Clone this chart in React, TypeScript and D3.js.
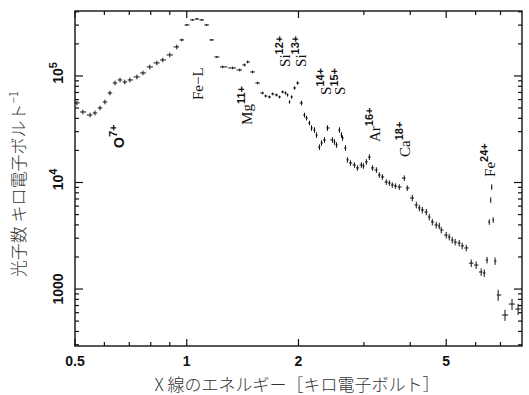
import React from 'react';
import * as d3 from 'd3';

// Spectrum data (energy keV, counts per keV, relative error)
const energy = [
  0.506,0.525,0.549,0.566,0.584,0.602,0.621,0.641,0.661,0.681,
  0.703,0.734,0.762,0.795,0.831,0.862,0.900,0.940,0.970,1.000,
  1.038,1.064,1.097,1.131,1.167,1.204,1.250,1.330,1.389,1.432,
  1.459,1.504,1.552,1.601,1.631,1.672,1.703,1.746,1.778,1.812,
  1.846,1.869,1.892,1.916,1.952,1.988,2.038,2.076,2.102,2.141,
  2.168,2.209,2.236,2.278,2.307,2.350,2.394,2.469,2.500,2.531,
  2.579,2.611,2.627,2.676,2.709,2.760,2.829,2.882,2.954,2.991,
  3.047,3.104,3.163,3.242,3.302,3.365,3.448,3.514,3.578,3.647,
  3.737,3.855,3.927,4.051,4.153,4.231,4.310,4.419,4.500,4.586,
  4.700,4.789,4.848,5.000,5.094,5.19,5.284,5.42,5.52,5.66,
  5.84,6.02,6.21,6.33,6.44,6.53,6.59,6.63,6.69,6.77,
  6.90,7.20,7.52,7.81,
];
const counts = [
  55800,45900,43000,44950,50100,57000,69200,85900,91700,87800,
  91700,97900,106700,121500,132500,141300,157500,187200,217800,301000,
  335700,342800,335700,301000,217800,150700,121500,118900,113800,126900,
  135300,109000,85900,69200,64900,63500,67800,66300,63500,70800,
  69200,66300,57000,63500,77100,85900,55800,43000,40300,36200,
  32500,31100,27900,21500,23500,25100,32500,25100,24000,22500,
  31100,27900,26200,21100,16300,15240,14600,13700,14600,14300,
  15600,17300,13700,13100,11750,11270,10100,9890,9470,9270,
  9070,11000,8870,7150,6150,5770,5520,5280,4740,4260,
  3990,3910,3580,3210,3080,2880,2760,2700,2540,2430,
  1750,1680,1445,1413,1870,4260,6850,9070,4450,1830,
  879,570,723,649,
];
const relErr = [
  0.05,0.05,0.05,0.05,0.05,0.05,0.05,0.05,0.05,0.05,
  0.05,0.05,0.05,0.05,0.05,0.05,0.05,0.05,0.03,0.02,
  0.02,0.02,0.02,0.02,0.02,0.02,0.03,0.03,0.03,0.03,
  0.03,0.03,0.03,0.03,0.03,0.03,0.03,0.03,0.03,0.03,
  0.035,0.035,0.035,0.035,0.035,0.035,0.05,0.05,0.05,0.05,
  0.06,0.06,0.06,0.06,0.06,0.06,0.06,0.06,0.06,0.06,
  0.06,0.06,0.06,0.06,0.06,0.06,0.06,0.06,0.06,0.06,
  0.06,0.06,0.06,0.06,0.06,0.06,0.06,0.06,0.06,0.06,
  0.06,0.06,0.06,0.07,0.07,0.07,0.07,0.07,0.07,0.07,
  0.07,0.07,0.07,0.07,0.07,0.07,0.07,0.07,0.07,0.07,
  0.08,0.08,0.08,0.08,0.07,0.06,0.06,0.06,0.06,0.08,
  0.12,0.12,0.12,0.12,
];

const xTickValues = [0.5, 1, 2, 5];
const xTickLabels = ['0.5', '1', '2', '5'];
const xMinorValues = [0.6, 0.7, 0.8, 0.9, 3, 4, 6, 7];

const yMajorValues = [1000, 10000, 100000];
const yMajorBase = ['1000', '10', '10'];
const yMajorExp = ['', '4', '5'];

// line labels: element, ion charge, anchor energy, anchor count (bottom of text)
const lineElements = ['O', 'Fe−L', 'Mg', 'Si', 'Si', 'S', 'S', 'Ar', 'Ca', 'Fe'];
const lineCharges = ['7+', '', '11+', '12+', '13+', '14+', '15+', '16+', '18+', '24+'];
const lineEnergy = [0.656, 1.074, 1.45, 1.834, 2.025, 2.379, 2.594, 3.221, 3.88, 6.565];
const lineCount = [21100, 59500, 34700, 121500, 121500, 66300, 66300, 24000, 17350, 11270];

const xTitle = 'X 線のエネルギー［キロ電子ボルト］';
const yTitle = '光子数 キロ電子ボルト';

export default function App() {
  const W = 529, H = 395;
  const L = 75, R = 522, T = 11, B = 346;
  const x = d3.scaleLog().domain([0.5, 8]).range([L, R]);
  const y = d3.scaleLog().domain([292, 4.07e5]).range([B, T]);

  const yMinor: number[] = [];
  for (const dec of [100, 1000, 10000, 100000]) {
    for (let m = 2; m <= 9; m++) {
      const v = dec * m;
      if (v > 292 && v < 4.07e5) yMinor.push(v);
    }
  }

  const n = Math.min(energy.length, counts.length, relErr.length);
  const px = energy.slice(0, n).map((e) => x(e));
  const crosses = px.map((cx, i) => {
    const dl = i > 0 ? (cx - px[i - 1]) / 2 : (px[1] - cx) / 2;
    const dr = i < n - 1 ? (px[i + 1] - cx) / 2 : (cx - px[i - 1]) / 2;
    const cy = y(counts[i]);
    const y1 = y(counts[i] * (1 + relErr[i]));
    const y2 = y(counts[i] * (1 - relErr[i]));
    return { cx, cy, x1: cx - dl * 0.9, x2: cx + dr * 0.9, y1, y2 };
  });

  const sans = 'Liberation Sans, Arial, sans-serif';
  const serif = 'Liberation Serif, Times New Roman, serif';
  const cjk = 'Noto Sans CJK JP, sans-serif';

  return (
    <svg width={W} height={H} style={{ position: 'absolute', left: 0, top: 0, background: '#fff' }}>
      <rect x={0} y={0} width={W} height={H} fill="#fff" />
      {/* data crosses */}
      <g stroke="#111" strokeWidth={1} fill="none">
        {crosses.map((c, i) => (
          <g key={i}>
            <line x1={c.x1} x2={c.x2} y1={c.cy} y2={c.cy} />
            <line x1={c.cx} x2={c.cx} y1={c.y1} y2={c.y2} />
          </g>
        ))}
      </g>
      {/* frame */}
      <rect x={L} y={T} width={R - L} height={B - T} fill="none" stroke="#111" strokeWidth={1.4} />
      {/* ticks */}
      <g stroke="#111" strokeWidth={1.2}>
        {xTickValues.map((v, i) => (
          <g key={'xm' + i}>
            <line x1={x(v)} x2={x(v)} y1={B} y2={B - 7} />
            <line x1={x(v)} x2={x(v)} y1={T} y2={T + 7} />
          </g>
        ))}
        {xMinorValues.map((v, i) => (
          <g key={'xn' + i}>
            <line x1={x(v)} x2={x(v)} y1={B} y2={B - 4} />
            <line x1={x(v)} x2={x(v)} y1={T} y2={T + 4} />
          </g>
        ))}
        {yMajorValues.map((v, i) => (
          <g key={'ym' + i}>
            <line x1={L} x2={L + 8} y1={y(v)} y2={y(v)} />
            <line x1={R} x2={R - 8} y1={y(v)} y2={y(v)} />
          </g>
        ))}
        {yMinor.map((v, i) => (
          <g key={'yn' + i}>
            <line x1={L} x2={L + 4} y1={y(v)} y2={y(v)} />
            <line x1={R} x2={R - 4} y1={y(v)} y2={y(v)} />
          </g>
        ))}
      </g>
      {/* x tick labels */}
      {xTickValues.map((v, i) => (
        <text key={'xl' + i} x={x(v)} y={366} textAnchor="middle" fontFamily={sans} fontWeight="bold" fontSize={14} fill="#111">
          {xTickLabels[i]}
        </text>
      ))}
      {/* y tick labels */}
      {yMajorValues.map((v, i) => (
        <text key={'yl' + i} transform={`translate(63,${y(v) - (yMajorExp[i] ? 3 : 0)}) rotate(-90)`} textAnchor="middle" fontFamily={sans} fontWeight="bold" fontSize={14} fill="#111">
          {yMajorBase[i]}
          {yMajorExp[i] ? <tspan dy={-6} fontSize={11}>{yMajorExp[i]}</tspan> : null}
        </text>
      ))}
      {/* line labels */}
      {lineElements.map((el, i) => (
        <text key={'ll' + i} transform={`translate(${x(lineEnergy[i])},${y(lineCount[i])}) rotate(-90)`} dominantBaseline="central" textAnchor="start" fill="#111">
          <tspan fontFamily={i === 0 ? sans : serif} fontWeight={i === 0 ? 'bold' : 'normal'} fontSize={i === 0 ? 14 : 15}>{el}</tspan>
          {lineCharges[i] ? <tspan dy={-6} fontFamily={sans} fontWeight="bold" fontSize={11}>{lineCharges[i]}</tspan> : null}
        </text>
      ))}
      {/* axis titles */}
      <text x={297} y={391} textAnchor="middle" fontFamily={cjk} fontWeight={300} fontSize={17} fill="#333">
        {xTitle}
      </text>
      <text transform={`translate(25,184) rotate(-90)`} textAnchor="middle" fontFamily={cjk} fontWeight={300} fontSize={17} fill="#333">
        {yTitle}
        <tspan dy={-7} fontSize={12}>−1</tspan>
      </text>
    </svg>
  );
}
